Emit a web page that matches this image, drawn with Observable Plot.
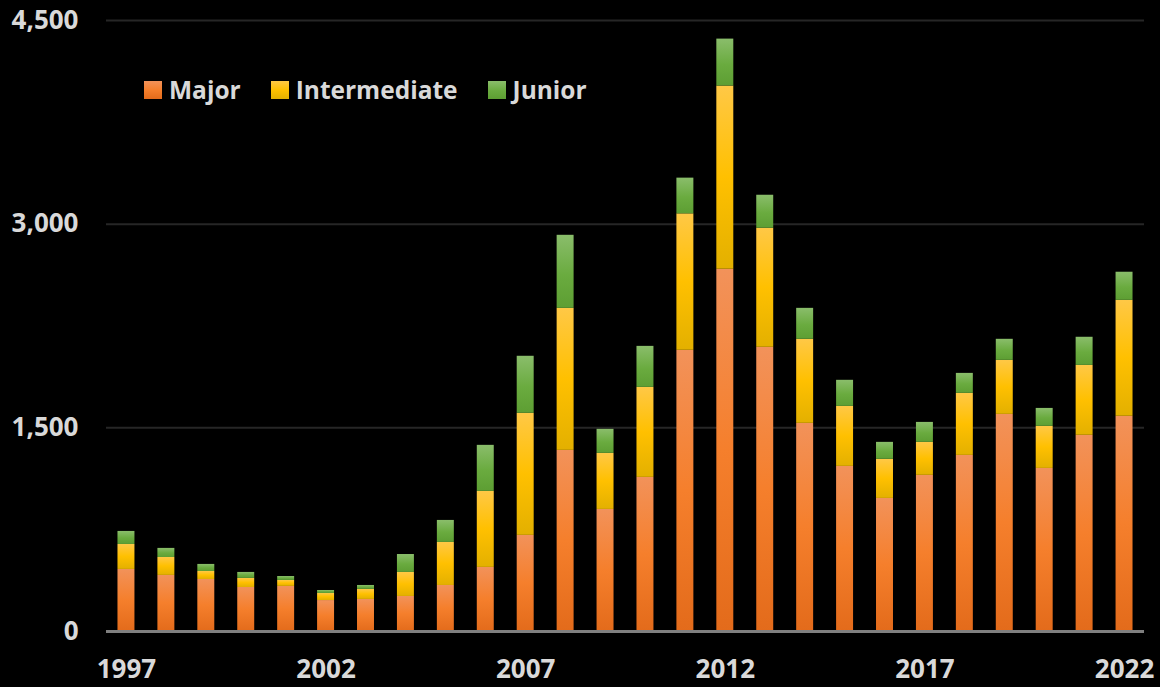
<!DOCTYPE html>
<html>
<head>
<meta charset="utf-8">
<script src="https://cdn.jsdelivr.net/npm/d3@7"></script>
<script src="https://cdn.jsdelivr.net/npm/@observablehq/plot@0.6"></script>
<style>
  html, body { margin: 0; padding: 0; background: #000; }
  #wrap { position: relative; width: 1160px; height: 687px; background: #000; overflow: hidden; }
  #legend { position: absolute; left: 144px; top: 72px; display: flex; align-items: center; gap: 30px;
    font-family: "Open Sans", sans-serif; font-weight: bold; font-size: 24.5px; color: #D9D9D9; line-height: 36px; }
  .item { display: flex; align-items: center; }
  .sw { width: 18px; height: 18px; margin-right: 7px; }
</style>
</head>
<body>
<div id="wrap"><div id="legend"></div></div>
<script>
const years = ["1997","1998","1999","2000","2001","2002","2003","2004","2005","2006","2007","2008","2009","2010","2011","2012","2013","2014","2015","2016","2017","2018","2019","2020","2021","2022"];
const major        = [457, 413, 383, 324, 332, 228, 236, 258, 339, 472, 708, 1334, 899, 1135, 2071, 2668, 2093, 1533, 1216, 980, 1150, 1297, 1599, 1201, 1445, 1585];
const intermediate = [184, 132, 59, 67, 44, 52, 74, 177, 317, 560, 899, 1046, 413, 663, 1005, 1349, 877, 619, 442, 288, 243, 457, 398, 310, 515, 854];
const junior       = [96, 67, 52, 44, 29, 22, 29, 132, 162, 339, 420, 538, 177, 302, 263, 346, 243, 228, 192, 125, 147, 147, 155, 132, 207, 207];
const seriesNames = ["Major", "Intermediate", "Junior"];
const yTicks = [0, 1500, 3000, 4500];
const xTicks = ["1997", "2002", "2007", "2012", "2017", "2022"];

const gradients = {
  Major: [["0%", "#F2925A"], ["50%", "#F57F2C"], ["100%", "#E36B1B"]],
  Intermediate: [["0%", "#FFC846"], ["50%", "#FFC000"], ["100%", "#E3B000"]],
  Junior: [["0%", "#8ABD6B"], ["55%", "#6AAB3F"], ["100%", "#5D9E33"]]
};

const seriesValues = [major, intermediate, junior];
const data = [];
years.forEach((y, i) => {
  seriesNames.forEach((s, k) => data.push({year: y, series: s, value: seriesValues[k][i]}));
});

const chart = Plot.plot({
  width: 1160,
  height: 687,
  marginLeft: 106,
  marginRight: 16,
  marginTop: 20,
  marginBottom: 56,
  style: {background: "#000", color: "#D9D9D9", fontFamily: "Open Sans, sans-serif", fontSize: "26px", fontWeight: "bold"},
  x: {domain: years, paddingInner: 0.575, paddingOuter: 0.2875, round: false, label: null},
  y: {domain: [0, 4500], label: null},
  color: {type: "ordinal", domain: seriesNames, range: seriesNames.map(s => `url(#grad-${s})`)},
  marks: [
    Plot.ruleY(yTicks.filter(d => d > 0), {stroke: "#262626", strokeWidth: 2}),
    Plot.barY(data, {x: "year", y: "value", fill: "series", order: seriesNames}),
    Plot.ruleY([0], {stroke: "#7F7F7F", strokeWidth: 3}),
    Plot.axisY({ticks: yTicks, tickFormat: d3.format(","), tickSize: 0, tickPadding: 28, fontSize: 26, fontWeight: "bold", fill: "#D9D9D9"}),
    Plot.axisX({ticks: xTicks, tickSize: 0, tickPadding: 28, fontSize: 26, fontWeight: "bold", fill: "#D9D9D9"})
  ]
});

const defs = d3.select(chart).insert("defs", ":first-child");
for (const s of seriesNames) {
  const g = defs.append("linearGradient").attr("id", `grad-${s}`).attr("x1", 0).attr("y1", 0).attr("x2", 0).attr("y2", 1);
  for (const [o, c] of gradients[s]) g.append("stop").attr("offset", o).attr("stop-color", c);
}

document.getElementById("wrap").prepend(chart);

const legend = d3.select("#legend");
for (const s of seriesNames) {
  const it = legend.append("div").attr("class", "item");
  const stops = gradients[s].map(([o, c]) => `${c} ${o}`).join(", ");
  it.append("div").attr("class", "sw").style("background", `linear-gradient(to bottom, ${stops})`);
  it.append("span").text(s);
}
</script>
</body>
</html>
